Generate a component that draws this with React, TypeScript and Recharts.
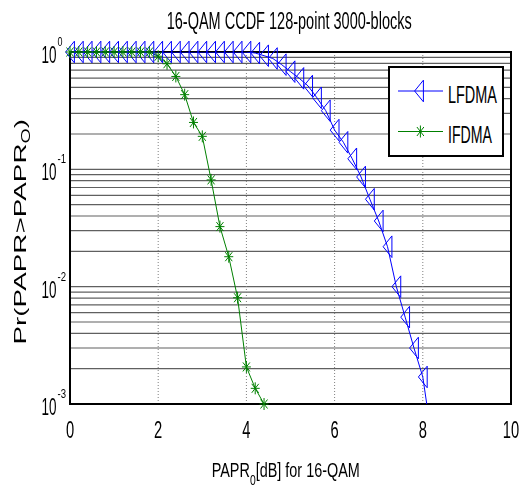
import React from 'react';
import { ComposedChart, Line, XAxis, YAxis, CartesianGrid, ReferenceArea, Legend } from 'recharts';

const xTicks = [0, 2, 4, 6, 8, 10];
const yGridTicks = [
  0.001, 0.002, 0.003, 0.004, 0.005, 0.006, 0.007, 0.008, 0.009,
  0.01, 0.02, 0.03, 0.04, 0.05, 0.06, 0.07, 0.08, 0.09,
  0.1, 0.2, 0.3, 0.4, 0.5, 0.6, 0.7, 0.8, 0.9, 1,
];
const yMajorLabels: Record<string, string> = { '1': '0', '0.1': '-1', '0.01': '-2', '0.001': '-3' };
const legendOrder = ['LFDMA', 'IFDMA'];

const lfdmaX = [
  0, 0.2, 0.4, 0.6, 0.8, 1.0, 1.2, 1.4, 1.6, 1.8, 2.0, 2.2, 2.4, 2.6, 2.8, 3.0, 3.2, 3.4, 3.6, 3.8, 4.0,
  4.2, 4.4, 4.6, 4.8, 5.0, 5.2, 5.4, 5.6, 5.8, 6.0, 6.2, 6.4, 6.6, 6.8, 7.0, 7.2, 7.4, 7.6, 7.8, 8.0, 8.2,
];
const lfdmaY = [
  1, 1, 1, 1, 1, 1, 1, 1, 1, 1, 1, 1, 1, 1, 1, 1, 1, 1, 1, 1, 1,
  0.98, 0.93, 0.88, 0.78, 0.68, 0.596, 0.513, 0.407, 0.316, 0.216, 0.17, 0.123, 0.0861, 0.0556, 0.0363,
  0.0219, 0.01, 0.0055, 0.003, 0.0017, 0.00052,
];
const ifdmaX = [
  0, 0.2, 0.4, 0.6, 0.8, 1.0, 1.2, 1.4, 1.6, 1.8, 2.0, 2.2, 2.4, 2.6, 2.8, 3.0, 3.2, 3.4, 3.6, 3.8, 4.0, 4.2, 4.4,
];
const ifdmaY = [
  1, 1, 1, 1, 1, 1, 1, 1, 1, 1, 0.92, 0.794, 0.619, 0.433, 0.251, 0.191, 0.0813, 0.0325, 0.018, 0.00805,
  0.00207, 0.00136, 0.001,
];

const BLUE = '#0000ff';
const GREEN = '#008000';
const FONT = '"Liberation Sans", Arial, sans-serif';
const Y_MIN = 0.001;

const lfdmaData = lfdmaX.map((x, i) => ({ x, y: lfdmaY[i] }));
const lfdmaMarkerData = lfdmaData.filter((d) => d.y >= Y_MIN);
const ifdmaData = ifdmaX.map((x, i) => ({ x, y: ifdmaY[i] }));

function TriLeft({ cx, cy, color }: { cx: number; cy: number; color: string }) {
  if (cx == null || cy == null || isNaN(cx) || isNaN(cy)) return null;
  return (
    <path
      d={`M${cx - 4.4},${cy} L${cx + 4.4},${cy - 10.8} L${cx + 4.4},${cy + 10.8} Z`}
      fill="none"
      stroke={color}
      strokeWidth={1}
    />
  );
}

function Star({ cx, cy, color }: { cx: number; cy: number; color: string }) {
  if (cx == null || cy == null || isNaN(cx) || isNaN(cy)) return null;
  return (
    <g stroke={color} strokeWidth={1}>
      <line x1={cx - 4.5} y1={cy} x2={cx + 4.5} y2={cy} />
      <line x1={cx} y1={cy - 6} x2={cx} y2={cy + 6} />
      <line x1={cx - 3.5} y1={cy - 4.5} x2={cx + 3.5} y2={cy + 4.5} />
      <line x1={cx - 3.5} y1={cy + 4.5} x2={cx + 3.5} y2={cy - 4.5} />
    </g>
  );
}

const XTick = (props: any) => {
  const { x, payload } = props;
  const s = String(payload.value);
  const len = s.length * 8.2;
  return (
    <text x={x - len / 2} y={430} textAnchor="start" fontFamily={FONT} fontSize={23} fill="#000"
      textLength={len} lengthAdjust="spacingAndGlyphs">
      {s}
    </text>
  );
};

const YTick = (props: any) => {
  const { y, payload } = props;
  const sup = yMajorLabels[String(payload.value)];
  if (sup === undefined) return null;
  return (
    <g fontFamily={FONT} fill="#000">
      <text x={33.5} y={y + 11} textAnchor="start" fontSize={23} textLength={15} lengthAdjust="spacingAndGlyphs">10</text>
      <text x={49.5} y={y - 6} textAnchor="start" fontSize={12} textLength={sup.length === 1 ? 5 : 8.5} lengthAdjust="spacingAndGlyphs">{sup}</text>
    </g>
  );
};

const TitleAndLabels = () => (
  <g fontFamily={FONT} fill="#000">
    <text x={158.7} y={20.5} fontSize={23} textLength={245} lengthAdjust="spacingAndGlyphs">
      16-QAM CCDF 128-point 3000-blocks
    </text>
    <text transform="translate(203.7,468.5) scale(0.74,1)" fontSize={19.5}>
      PAPR<tspan fontSize={14} dy={8}>0</tspan><tspan dy={-8}>[dB] for 16-QAM</tspan>
    </text>
    <text transform="translate(17.5,223.7) rotate(-90) scale(1.64,1)" fontSize={17} textAnchor="middle">
      Pr(PAPR&gt;PAPR<tspan fontSize={12} dy={4}>O</tspan><tspan dy={-4}>)</tspan>
    </text>
  </g>
);

const LegendBox = (props: any) => {
  const names = (props.payload || []).map((p: any) => p.value);
  const items = legendOrder.filter((n) => names.includes(n));
  return (
    <svg width={116} height={91} style={{ display: 'block' }}>
      <rect x={1} y={1} width={114} height={89} fill="#fff" stroke="#000" strokeWidth={2} />
      {items.map((name: string, i: number) => {
        const cy = i === 0 ? 25 : 65.5;
        const color = name === 'LFDMA' ? BLUE : GREEN;
        return (
          <g key={name}>
            <line x1={10} y1={cy} x2={55} y2={cy} stroke={color} strokeWidth={1} />
            {name === 'LFDMA' ? <TriLeft cx={31} cy={cy} color={color} /> : <Star cx={32.4} cy={cy} color={color} />}
            <text x={60} y={cy + 11.6} fontFamily={FONT} fontSize={24} fill="#000"
              textLength={name === 'LFDMA' ? 49 : 44} lengthAdjust="spacingAndGlyphs">
              {name}
            </text>
          </g>
        );
      })}
    </svg>
  );
};

export default function App() {
  return (
    <div style={{ position: 'fixed', left: 8, top: 8, width: 511, height: 479 }}>
      <style>{'html, body { overflow: hidden; }'}</style>
      <ComposedChart width={511} height={479} margin={{ top: 44, right: 8, bottom: 53, left: 0 }}>
        <XAxis
          dataKey="x"
          type="number"
          domain={[0, 10]}
          ticks={xTicks}
          interval={0}
          height={30}
          axisLine={false}
          tickLine={false}
          tick={<XTick />}
          label={{ content: () => <TitleAndLabels /> }}
        />
        <YAxis
          yAxisId="main"
          type="number"
          scale="log"
          domain={[0.001, 1]}
          ticks={yGridTicks}
          interval={0}
          width={62}
          axisLine={false}
          tickLine={false}
          tick={<YTick />}
        />
        <YAxis yAxisId="over" type="number" scale="log" domain={[0.001, 1]} allowDataOverflow hide />
        <CartesianGrid yAxisId="main" vertical={false} stroke="#606060" strokeWidth={1.2} />
        <CartesianGrid yAxisId="main" horizontal={false} stroke="#808080" strokeWidth={1} strokeDasharray="1 2" />
        <Legend
          layout="horizontal"
          verticalAlign="middle"
          align="center"
          wrapperStyle={{ left: 380.3, top: 57.7, width: 116, height: 91 }}
          content={<LegendBox />}
        />
        <Line
          yAxisId="over"
          data={lfdmaData}
          dataKey="y"
          name="LFDMA"
          stroke={BLUE}
          strokeWidth={1}
          dot={false}
          activeDot={false}
          type="linear"
          isAnimationActive={false}
        />
        <Line
          yAxisId="main"
          data={lfdmaMarkerData}
          dataKey="y"
          name="LFDMA markers"
          legendType="none"
          stroke="none"
          dot={(p: any) => <TriLeft key={`t${p.index}`} cx={p.cx} cy={p.cy} color={BLUE} />}
          activeDot={false}
          type="linear"
          isAnimationActive={false}
        />
        <Line
          yAxisId="main"
          data={ifdmaData}
          dataKey="y"
          name="IFDMA"
          stroke={GREEN}
          strokeWidth={1}
          dot={(p: any) => <Star key={`s${p.index}`} cx={p.cx} cy={p.cy} color={GREEN} />}
          activeDot={false}
          type="linear"
          isAnimationActive={false}
        />
        <ReferenceArea
          yAxisId="main"
          x1={0}
          x2={10}
          y1={0.001}
          y2={1}
          fill="none"
          stroke="#000"
          strokeWidth={2}
          ifOverflow="visible"
        />
      </ComposedChart>
    </div>
  );
}
